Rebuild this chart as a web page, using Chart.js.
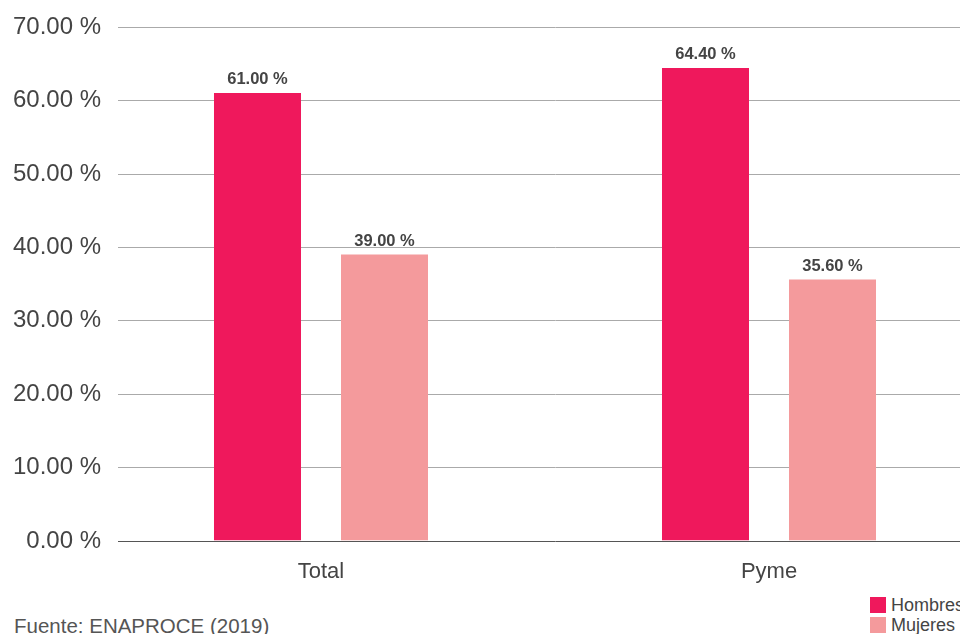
<!DOCTYPE html>
<html>
<head>
<meta charset="utf-8">
<script src="https://cdn.jsdelivr.net/npm/chart.js@4"></script>
<style>
  html, body { margin: 0; padding: 0; background: #fff; overflow: hidden; width: 960px; height: 634px; }
  #wrap { position: absolute; left: 0; top: 0; width: 1000px; height: 595px; }
  #fuente { position: absolute; left: 14px; top: 614px; font: 20.5px "Liberation Sans", Arial, sans-serif; color: #555; white-space: nowrap; }
  #legend { position: absolute; left: 870px; top: 595px; font: 18px "Liberation Sans", Arial, sans-serif; color: #444; white-space: nowrap; }
  #legend div { height: 20px; line-height: 20px; }
  #legend span { display: inline-block; width: 16px; height: 16px; vertical-align: -2px; margin-right: 5px; }
</style>
</head>
<body>
<div id="wrap"><canvas id="myChart"></canvas></div>
<div id="legend"></div>
<div id="fuente">Fuente: ENAPROCE (2019)</div>
<script>
// data
const categories = ['Total', 'Pyme'];
const hombres = [61.0, 64.4];
const mujeres = [39.0, 35.6];
const seriesNames = ['Hombres', 'Mujeres'];
const seriesColors = ['#ef185c', '#f49a9c'];

function pct(v) {
  return v.toFixed(2) + ' %';
}

// ==========================================================================
// plugins
// ==========================================================================
// gridlines + y labels (drawn by hand so they can sit past the axis box)
const gridPlugin = {
  id: 'grid',
  beforeDatasetsDraw: function (chart) {
    const ctx = chart.ctx, y = chart.scales.y, area = chart.chartArea;
    ctx.save();
    ctx.font = '24px "Liberation Sans", Arial, sans-serif';
    ctx.fillStyle = '#444';
    ctx.textAlign = 'right';
    ctx.textBaseline = 'middle';
    y.ticks.forEach(function (t) {
      const py = Math.round(y.getPixelForValue(t.value)) + 0.5;
      ctx.strokeStyle = t.value === 0 ? '#555' : '#aaa';
      ctx.lineWidth = 1;
      ctx.beginPath();
      ctx.moveTo(118, py);
      ctx.lineTo(area.right, py);
      ctx.stroke();
      ctx.fillText(pct(t.value), 101, py);
    });
    ctx.restore();
  }
};

const labelPlugin = {
  id: 'barLabels',
  afterDatasetsDraw: function (chart) {
    const ctx = chart.ctx;
    ctx.save();
    ctx.font = 'bold 16.5px "Liberation Sans", Arial, sans-serif';
    ctx.fillStyle = '#444';
    ctx.textAlign = 'center';
    ctx.textBaseline = 'bottom';
    chart.data.datasets.forEach(function (ds, i) {
      chart.getDatasetMeta(i).data.forEach(function (bar, j) {
        ctx.fillText(pct(ds.data[j]), bar.x, bar.y - 5);
      });
    });
    ctx.restore();
  }
};

const config = {
  type: 'bar',
  data: {
    labels: categories,
    datasets: [
      { label: seriesNames[0], data: hombres, backgroundColor: seriesColors[0] },
      { label: seriesNames[1], data: mujeres, backgroundColor: seriesColors[1] }
    ]
  },
  options: {
    responsive: true,
    maintainAspectRatio: false,
    animation: false,
    categoryPercentage: 0.567,
    barPercentage: 0.685,
    layout: { padding: { top: 27, right: 7, left: 0, bottom: 0 } },
    plugins: {
      legend: { display: false },
      tooltip: { enabled: false }
    },
    scales: {
      x: {
        grid: { display: false },
        border: { display: false },
        ticks: {
          color: '#444',
          font: { size: 22, family: '"Liberation Sans", Arial, sans-serif' },
          padding: 10
        }
      },
      y: {
        min: 0,
        max: 70,
        afterFit: function (scale) { scale.width = 97; },
        grid: { display: false },
        border: { display: false },
        ticks: { stepSize: 10, display: false }
      }
    }
  },
  plugins: [gridPlugin, labelPlugin]
};

const myChart = new Chart(document.getElementById('myChart'), config);

// legend
const legendEl = document.getElementById('legend');
seriesNames.forEach(function (name, i) {
  legendEl.innerHTML += '<div><span style="background:' + seriesColors[i] + '"></span>' + name + '</div>';
});
</script>
</body>
</html>
